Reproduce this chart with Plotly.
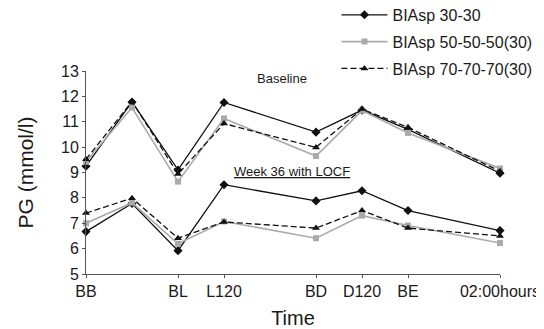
import plotly.graph_objects as go

# time points (hours-ish units along the day) and their labels
time_x = [0, 1, 2, 3, 5, 6, 7, 9]
tick_vals = [0, 2, 3, 5, 6, 7, 9]
tick_text = ["BB", "BL", "L120", "BD", "D120", "BE", "02:00hours"]

series_names = ["BIAsp 30-30", "BIAsp 50-50-50(30)", "BIAsp 70-70-70(30)"]

# Baseline profiles
base_30 = [9.25, 11.78, 9.10, 11.76, 10.59, 11.46, 10.70, 8.97]
base_50 = [9.42, 11.56, 8.64, 11.13, 9.65, 11.44, 10.56, 9.16]
base_70 = [9.52, 11.80, 8.94, 10.93, 9.99, 11.50, 10.78, 9.05]

# Week 36 with LOCF profiles
wk36_30 = [6.67, 7.78, 5.92, 8.52, 7.88, 8.28, 7.50, 6.71]
wk36_50 = [7.00, 7.81, 6.19, 7.07, 6.41, 7.30, 6.91, 6.22]
wk36_70 = [7.40, 7.99, 6.41, 7.05, 6.81, 7.50, 6.81, 6.50]

styles = [
    dict(line=dict(color="#111111", width=1.3), marker=dict(symbol="diamond", size=7, color="#111111")),
    dict(line=dict(color="#aaaaaa", width=1.6), marker=dict(symbol="square", size=6, color="#aaaaaa")),
    dict(line=dict(color="#111111", width=1.3, dash="6px,3px"), marker=dict(symbol="triangle-up", size=7, color="#111111")),
]

fig = go.Figure()
for name, yb, yw, st in zip(series_names, [base_30, base_50, base_70], [wk36_30, wk36_50, wk36_70], styles):
    fig.add_trace(go.Scatter(x=time_x, y=yb, mode="lines+markers", name=name,
                             legendgroup=name, showlegend=True, cliponaxis=False, **st))
    fig.add_trace(go.Scatter(x=time_x, y=yw, mode="lines+markers", name=name,
                             legendgroup=name, showlegend=False, cliponaxis=False, **st))

font_family = "Liberation Sans, Arial, sans-serif"

# page body adds an 8px offset, so the figure is 8px smaller on each axis
fig.update_layout(
    width=536, height=321,
    margin=dict(l=78, r=44, t=63, b=55, autoexpand=False),
    plot_bgcolor="white", paper_bgcolor="white",
    font=dict(family=font_family, size=16, color="#1a1a1a"),
    showlegend=True,
    legend=dict(x=0.605, y=1.36, xanchor="left", yanchor="top",
                bgcolor="rgba(0,0,0,0)", tracegroupgap=3,
                font=dict(size=16), itemwidth=46),
    xaxis=dict(range=[0, 9], tickvals=tick_vals, ticktext=tick_text,
               showgrid=False, zeroline=False, showline=True, linecolor="#555555",
               linewidth=1, ticks="outside", ticklen=3, tickcolor="#555555",
               title=dict(text="Time", font=dict(size=20), standoff=11)),
    yaxis=dict(range=[5, 13], dtick=1, showgrid=False, zeroline=False,
               showline=True, linecolor="#555555", linewidth=1,
               ticks="outside", ticklen=3, tickcolor="#555555",
               title=dict(text="PG (mmol/l)", font=dict(size=21), standoff=21)),
    annotations=[
        dict(x=4.26, y=12.71, xref="x", yref="y", text="Baseline", showarrow=False,
             font=dict(size=13)),
        dict(x=4.47, y=9.03, xref="x", yref="y", text="<u>Week 36 with LOCF</u>",
             showarrow=False, font=dict(size=13)),
    ],
)

fig.write_html("out.html")
